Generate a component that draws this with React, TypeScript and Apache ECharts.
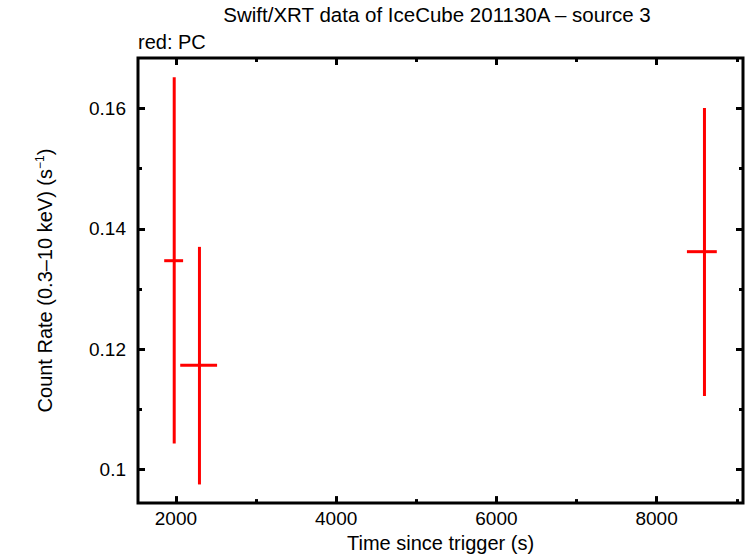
import React, { useEffect, useRef } from "react";
import * as echarts from "echarts";

const times = [1979, 2294, 8597];
const timeLo = [1854, 2054, 8378];
const timeHi = [2090, 2514, 8751];
const rates = [0.1347, 0.1173, 0.1362];
const rateLo = [0.1043, 0.0975, 0.1122];
const rateHi = [0.1652, 0.137, 0.1601];

const xMajor = [2000, 4000, 6000, 8000];
const xMinor = [3000, 5000, 7000, 9000];
const yMajor = [0.1, 0.12, 0.14, 0.16];
const yMinor = [0.11, 0.13, 0.15];

const X_MIN = 1527;
const X_MAX = 9078;
const Y_MIN = 0.0944;
const Y_MAX = 0.1684;

const FONT = "'Liberation Sans', Arial, Helvetica, sans-serif";

export default function App() {
  const ref = useRef<HTMLDivElement>(null);
  useEffect(() => {
    if (!ref.current) return;
    const chart = echarts.init(ref.current, null, { renderer: "svg" });
    const data = times.map((t, i) => [t, rates[i], timeLo[i], timeHi[i], rateLo[i], rateHi[i]]);

    const xBase = (pos: string, ticks: number[], len: number, showLabel: boolean) => ({
      type: "value",
      position: pos,
      min: X_MIN,
      max: X_MAX,
      axisLine: { show: false },
      splitLine: { show: false },
      axisTick: {
        show: true,
        inside: true,
        length: len,
        customValues: ticks,
        lineStyle: { color: "#000", width: 3 },
      },
      axisLabel: {
        show: showLabel,
        customValues: xMajor,
        margin: 6,
        color: "#000",
        fontSize: 19,
        fontFamily: FONT,
        formatter: (v: number) => String(v),
      },
    });
    const yBase = (pos: string, ticks: number[], len: number, showLabel: boolean) => ({
      type: "value",
      position: pos,
      min: Y_MIN,
      max: Y_MAX,
      axisLine: { show: false },
      splitLine: { show: false },
      axisTick: {
        show: true,
        inside: true,
        length: len,
        customValues: ticks,
        lineStyle: { color: "#000", width: 3 },
      },
      axisLabel: {
        show: showLabel,
        customValues: yMajor,
        margin: 12,
        color: "#000",
        fontSize: 19,
        fontFamily: FONT,
        formatter: (v: number) => String(Math.round(v * 1000) / 1000),
      },
    });

    const xAxes: any[] = [
      {
        ...xBase("bottom", xMajor, 7, true),
        name: "Time since trigger (s)",
        nameLocation: "middle",
        nameGap: 29,
        nameTextStyle: { color: "#000", fontSize: 20, fontFamily: FONT, verticalAlign: "top" },
      },
      xBase("bottom", xMinor, 4, false),
      xBase("top", xMajor, 7, false),
      xBase("top", xMinor, 4, false),
    ];
    const yAxes: any[] = [
      {
        ...yBase("left", yMajor, 7, true),
        name: "Count Rate (0.3–10 keV) (s{sup|−1})",
        nameLocation: "middle",
        nameGap: 82,
        nameTextStyle: {
          color: "#000",
          fontSize: 20,
          fontFamily: FONT,
          rich: {
            sup: { fontSize: 12, fontFamily: FONT, color: "#000", verticalAlign: "top", lineHeight: 22 },
          },
        },
      },
      yBase("left", yMinor, 4, false),
      yBase("right", yMajor, 7, false),
      yBase("right", yMinor, 4, false),
    ];

    chart.setOption({
      animation: false,
      backgroundColor: "#fff",
      grid: {
        left: 138,
        top: 58,
        right: 3,
        bottom: 51,
        show: true,
        borderColor: "#000",
        borderWidth: 3,
        backgroundColor: "transparent",
        containLabel: false,
      },
      graphic: [
        {
          type: "text",
          x: 437,
          y: 14,
          style: {
            text: "Swift/XRT data of IceCube 201130A – source 3",
            fontSize: 20.5,
            fontFamily: FONT,
            fill: "#000",
            textAlign: "center",
            textVerticalAlign: "middle",
          },
        },
        {
          type: "text",
          x: 138,
          y: 42,
          style: {
            text: "red: PC",
            fontSize: 20,
            fontFamily: FONT,
            fill: "#000",
            textAlign: "left",
            textVerticalAlign: "middle",
          },
        },
      ],
      xAxis: xAxes,
      yAxis: yAxes,
      series: [
        {
          type: "custom",
          xAxisIndex: 0,
          yAxisIndex: 0,
          data,
          encode: { x: [0, 2, 3], y: [1, 4, 5] },
          renderItem: (_params: any, api: any) => {
            const x = api.value(0);
            const y = api.value(1);
            const xl = api.value(2);
            const xh = api.value(3);
            const yl = api.value(4);
            const yh = api.value(5);
            const pL = api.coord([xl, y]);
            const pR = api.coord([xh, y]);
            const pT = api.coord([x, yh]);
            const pB = api.coord([x, yl]);
            const style = { stroke: "#ff0000", lineWidth: 3 };
            return {
              type: "group",
              children: [
                { type: "line", shape: { x1: pL[0], y1: pL[1], x2: pR[0], y2: pR[1] }, style },
                { type: "line", shape: { x1: pT[0], y1: pT[1], x2: pB[0], y2: pB[1] }, style },
              ],
            };
          },
        },
      ],
    });
    return () => chart.dispose();
  }, []);
  return (
    <div
      ref={ref}
      style={{ position: "absolute", left: 0, top: 0, width: 746, height: 558 }}
    />
  );
}
